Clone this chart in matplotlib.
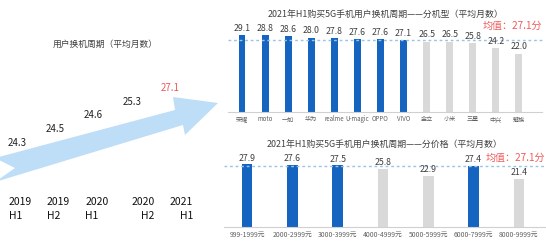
import matplotlib
matplotlib.use("Agg")
import matplotlib.pyplot as plt
from matplotlib.patches import Polygon

plt.rcParams["font.family"] = ["Noto Sans CJK SC", "DejaVu Sans"]

# ---------------- data ----------------
PERIODS = ["2019\nH1", "2019\nH2", "2020\nH1", "2020\nH2", "2021\nH1"]
PERIOD_VALUES = [24.3, 24.5, 24.6, 25.3, 27.1]

BRANDS = ["荣耀", "moto", "一加", "华为", "realme", "U-magic", "OPPO", "VIVO",
          "金立", "小米", "三星", "中兴", "魅族"]
BRAND_VALUES = [29.1, 28.8, 28.6, 28.0, 27.8, 27.6, 27.6, 27.1,
                26.5, 26.5, 25.8, 24.2, 22.0]

PRICES = ["999-1999元", "2000-2999元", "3000-3999元", "4000-4999元",
          "5000-5999元", "6000-7999元", "8000-9999元"]
PRICE_VALUES = [27.9, 27.6, 27.5, 25.8, 22.9, 27.4, 21.4]

MEAN_VALUE = 27.1

# ---------------- style ----------------
BLUE = "#1565C0"
GRAY = "#D9D9D9"
RED = "#F05A5A"
DOT = "#9CC2E8"
ARROW = "#BEDDF6"
TEXT = "#404040"

W, H = 546, 244
fig = plt.figure(figsize=(W / 100, H / 100), dpi=100)


def px_axes(left, top, width, height):
    """axes placed by pixel box (top measured from the top edge)"""
    return fig.add_axes([left / W, 1 - (top + height) / H, width / W, height / H])


# background canvas for the decorative arrow
canvas = px_axes(0, 0, W, H)
canvas.set_xlim(0, W)
canvas.set_ylim(H, 0)
canvas.axis("off")
arrow = Polygon([(-5, 158), (15, 168), (-5, 182), (183, 125), (185, 135),
                 (218, 103), (173, 97), (175, 110)],
                closed=True, facecolor=ARROW, edgecolor="none")
canvas.add_patch(arrow)
canvas.text(105, 44, "用户换机周期（平均月数）", ha="center", va="center",
            fontsize=6.3, color=TEXT)

# ---------------- left: half-year trend labels ----------------
ax_l = px_axes(0, 0, 218, H)
step_x = 38.25
step_y = 13.75
ax_l.set_xlim(-17 / step_x, (218 - 17) / step_x)
ax_l.set_ylim(-101 / step_y, (H - 101) / step_y)
ax_l.axis("off")
for i, (period, val) in enumerate(zip(PERIODS, PERIOD_VALUES)):
    color = RED if i == len(PERIOD_VALUES) - 1 else "#222222"
    ax_l.text(i, i, f"{val:.1f}", ha="center", va="center", fontsize=7,
              color=color)
    if i < 3:
        ax_l.text(i - 0.22, -4.8, period, ha="left", va="center",
                  fontsize=7.5, color="#111111", linespacing=1.45)
    else:
        ax_l.text(i + 0.6, -4.8, period, ha="right", va="center",
                  fontsize=7.5, color="#111111", linespacing=1.45,
                  multialignment="right")


def bar_panel(ax, labels, values, blue_idx, width, label_size, title, mean_y):
    colors = [BLUE if i in blue_idx else GRAY for i in range(len(values))]
    xs = range(len(values))
    ax.bar(xs, values, width=width, color=colors, zorder=2)
    for x, v in zip(xs, values):
        ax.text(x, v + 0.8, f"{v:.1f}", ha="center", va="bottom",
                fontsize=6.3, color=TEXT, zorder=4)
    ax.axhline(MEAN_VALUE, color=DOT, linestyle=(0, (2, 2)), linewidth=1,
               zorder=3, clip_on=False)
    ax.set_xticks(list(xs))
    ax.set_xticklabels(labels, fontsize=label_size, color="#606060")
    ax.tick_params(axis="x", length=0, pad=2.5)
    ax.set_yticks([])
    for side in ("top", "right", "left"):
        ax.spines[side].set_visible(False)
    ax.spines["bottom"].set_color("#D0D0D0")
    ax.spines["bottom"].set_linewidth(0.8)
    ax.set_title(title, fontsize=6.4, color=TEXT, pad=4.5)
    ax.text(1.0, mean_y, f"均值：{MEAN_VALUE}分", transform=ax.get_yaxis_transform(),
            ha="right", va="center", fontsize=7.2, color=RED)


# ---------------- top right: by brand ----------------
sp = 23.08
ax_t = px_axes(242 - 0.6 * sp, 112 - 89, 13.6 * sp, 89)
ax_t.set_xlim(-0.6, 13.0)
ax_t.set_ylim(0, 33.5)
bar_panel(ax_t, BRANDS, BRAND_VALUES, range(8), 0.3, 4.4,
          "2021年H1购买5G手机用户换机周期——分机型（平均月数）", 32.6)

# ---------------- bottom right: by price ----------------
sp2 = 45.33
ax_b = px_axes(247 - 0.5 * sp2, 227 - 74, 6.5 * sp2 + 26, 74)
ax_b.set_xlim(-0.5, 6.0 + 26 / sp2)
ax_b.set_ylim(0, 33)
bar_panel(ax_b, PRICES, PRICE_VALUES, (0, 1, 2, 5), 0.24, 4.9,
          "2021年H1购买5G手机用户换机周期——分价格（平均月数）", 31.0)

fig.savefig("out.png", dpi=100)
